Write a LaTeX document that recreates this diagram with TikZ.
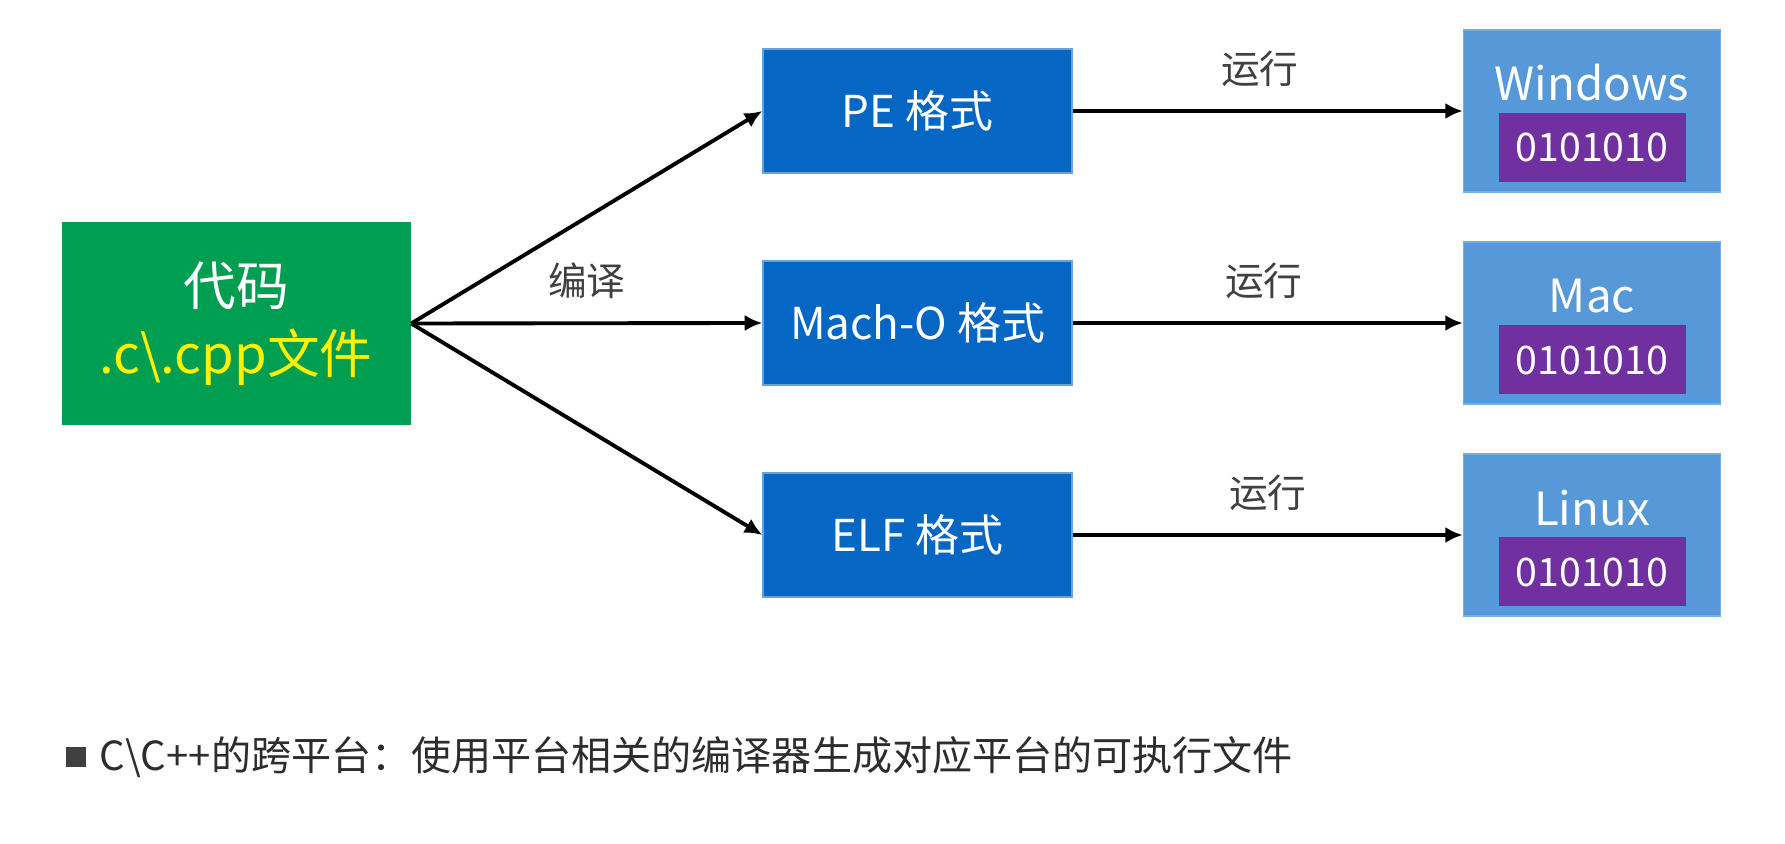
\documentclass[tikz,border=0pt]{standalone}
\usepackage{fontspec}
\setmainfont{Noto Sans CJK SC}
\usepackage{xcolor}
\usetikzlibrary{positioning,arrows.meta}
\definecolor{codegreen}{RGB}{0,158,80}
\definecolor{fmtblue}{RGB}{5,102,196}
\definecolor{osblue}{RGB}{86,152,216}
\definecolor{binpurple}{RGB}{112,48,160}
\definecolor{lblgray}{RGB}{64,64,64}

\begin{document}
\begin{tikzpicture}[
      codebox/.style={fill=codegreen, minimum width=3.49cm, minimum height=2.03cm, inner sep=0pt, align=center, text=white, font=\fontsize{15}{19.5}\selectfont},
      fmtbox/.style={fill=fmtblue, draw=fmtblue!60!white, line width=0.4pt, minimum width=3.09cm, minimum height=1.24cm, inner sep=0pt, text=white, font=\fontsize{12.5}{15}\selectfont},
      osbox/.style={fill=osblue, draw=osblue!80!white, line width=0.4pt, minimum width=2.57cm, minimum height=1.62cm, inner sep=0pt},
      ostitle/.style={text=white, inner sep=0pt, font=\fontsize{13}{15}\selectfont},
      binbox/.style={fill=binpurple, minimum width=1.87cm, minimum height=0.69cm, inner sep=0pt, text=white, font=\fontsize{11.2}{13}\selectfont},
      flow/.style={-{Latex[length=5pt,width=4.6pt]}, line width=1.1pt, black},
      steplbl/.style={text=lblgray, font=\fontsize{11}{13}\selectfont, above=3pt}
    ]
      \useasboundingbox[fill=white] (0,0) rectangle (17.85,-8.44);

      % source code
      \node[codebox] (code) at (2.36,-3.235) {代码\\\textcolor{yellow}{.c\textbackslash.cpp文件}};

      % Row 1: PE -> Windows
      \node[fmtbox] (pe) at (9.175,-1.11) {PE 格式};
      \node[osbox] (win) at (15.92,-1.11) {};
      \node[ostitle] (wintitle) at (15.92,-0.83) {Windows};
      \node[binbox] (winbin) at (15.92,-1.475) {0101010};

      % Row 2: Mach-O -> Mac
      \node[fmtbox] (macho) at (9.175,-3.23) {Mach-O 格式};
      \node[osbox] (mac) at (15.92,-3.23) {};
      \node[ostitle] (mactitle) at (15.92,-2.96) {Mac};
      \node[binbox] (macbin) at (15.92,-3.60) {0101010};

      % Row 3: ELF -> Linux
      \node[fmtbox] (elf) at (9.175,-5.35) {ELF 格式};
      \node[osbox] (linux) at (15.92,-5.35) {};
      \node[ostitle] (linuxtitle) at (15.92,-5.08) {Linux};
      \node[binbox] (linuxbin) at (15.92,-5.72) {0101010};

      % compile
      \draw[flow] (code.east) -- (pe.west);
      \draw[flow] (code.east) -- node[steplbl]{编译} (macho.west);
      \draw[flow] (code.east) -- (elf.west);

      % run
      \draw[flow] (pe.east) -- node[steplbl, pos=0.48]{运行} (win.west);
      \draw[flow] (macho.east) -- node[steplbl, pos=0.49]{运行} (mac.west);
      \draw[flow] (elf.east) -- node[steplbl, pos=0.5]{运行} (linux.west);

      % note
      \node[fill=lblgray, minimum size=0.2cm, inner sep=0pt] (dot) at (0.755,-7.57) {};
      \node[anchor=west, inner sep=0pt, text=lblgray!70!black, font=\fontsize{11.4}{14}\selectfont] (note) at (0.99,-7.57) {C\textbackslash C++的跨平台：使用平台相关的编译器生成对应平台的可执行文件};
    \end{tikzpicture}
\end{document}
